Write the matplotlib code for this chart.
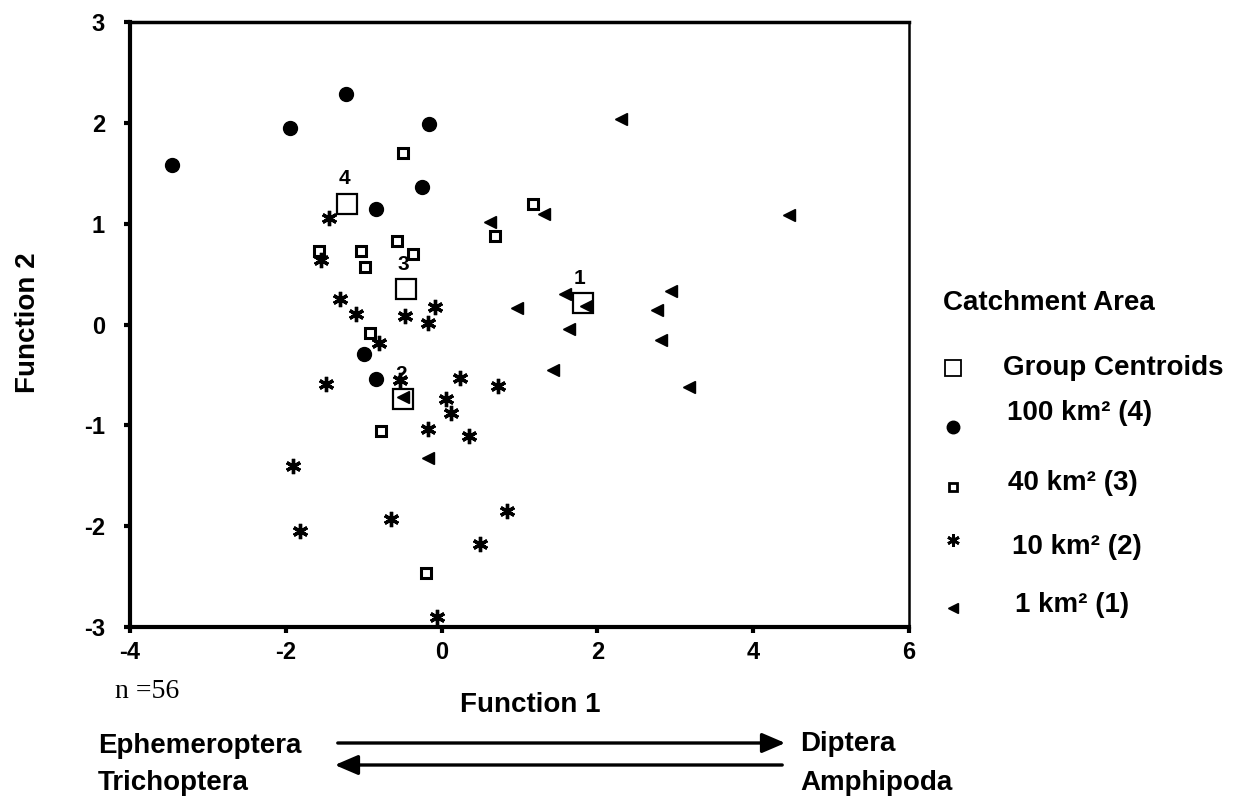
import matplotlib.pyplot as plt
from matplotlib.lines import Line2D
from matplotlib.patches import FancyArrowPatch

plt.rcParams['font.family'] = ['Liberation Sans', 'DejaVu Sans']
plt.rcParams['axes.unicode_minus'] = False

# discriminant scores
x100 = [-3.46, -1.95, -1.23, -0.16, -0.25, -0.84, -0.99, -0.84]
y100 = [1.58, 1.95, 2.29, 1.99, 1.36, 1.15, -0.29, -0.54]

x40 = [-0.49, 1.17, 0.68, -0.57, -0.37, -1.58, -1.04, -0.98, -0.92, -0.78, -0.20]
y40 = [1.70, 1.20, 0.88, 0.83, 0.70, 0.73, 0.73, 0.57, -0.08, -1.06, -2.46]

x10 = [-1.44, -1.55, -1.30, -1.10, -0.47, -0.08, -0.17, -0.81, -1.49, -0.53, 0.24,
       0.72, 0.06, 0.12, -0.17, 0.35, -1.91, -1.82, -0.65, 0.84, 0.49, -0.06]
y10 = [1.06, 0.64, 0.25, 0.10, 0.08, 0.17, 0.01, -0.18, -0.59, -0.55, -0.53,
       -0.61, -0.74, -0.88, -1.04, -1.11, -1.40, -2.05, -1.93, -1.85, -2.18, -2.90]

x1 = [0.62, 0.97, -0.49, -0.17, 2.30, 1.32, 4.46, 1.58, 1.85, 2.95, 2.76, 1.63, 2.82, 1.43, 3.17]
y1 = [1.02, 0.16, -0.72, -1.32, 2.04, 1.10, 1.09, 0.30, 0.18, 0.33, 0.14, -0.04, -0.15, -0.45, -0.62]

cent_x = [1.81, -0.49, -0.46, -1.21]
cent_y = [0.21, -0.74, 0.35, 1.20]
cent_lab = ['1', '2', '3', '4']

legend_labels = ['Group Centroids', '100 km\u00b2 (4)', '40 km\u00b2 (3)', '10 km\u00b2 (2)', '1 km\u00b2 (1)']

W, H = 1257, 796
fig = plt.figure(figsize=(W / 100, H / 100), dpi=100)
ax = fig.add_axes([130 / W, 1 - 627 / H, 779 / W, 605 / H])


def fx(px):
    return px / W


def fy(py):
    return 1 - py / H


star = (6, 2, 0)
ax.plot(x100, y100, 'o', color='black', ms=10, ls='none')
ax.plot(x40, y40, 's', mfc='white', mec='black', ms=6.5, mew=2.2, ls='none')
ax.plot(x10, y10, marker=star, color='black', ms=11, mew=2.4, ls='none')
ax.plot(x1, y1, '<', color='black', ms=8, ls='none')
ax.plot(cent_x, cent_y, 's', mfc='none', mec='black', ms=14, mew=1.6, ls='none')
for cx, cy, lab in zip(cent_x, cent_y, cent_lab):
    ax.annotate(lab, (cx, cy), xytext=(-2, 11), textcoords='offset points',
                ha='center', va='bottom', fontsize=15, fontweight='bold')

ax.set_xlim(-4, 6)
ax.set_ylim(-3, 3)
ax.set_xticks([-4, -2, 0, 2, 4, 6])
ax.set_yticks([-3, -2, -1, 0, 1, 2, 3])
ax.tick_params(direction='out', length=4, width=3, labelsize=17)
ax.tick_params(axis='x', pad=6)
ax.tick_params(axis='y', pad=14)
for t in ax.get_xticklabels() + ax.get_yticklabels():
    t.set_fontweight('bold')
    t.set_family(['Liberation Sans Narrow', 'Liberation Sans'])
ax.spines['left'].set_linewidth(3)
ax.spines['bottom'].set_linewidth(3)
ax.spines['top'].set_linewidth(2.5)
ax.spines['right'].set_linewidth(1.8)

tk = dict(fontsize=20, fontweight='bold', va='center')
fig.text(fx(28), fy(323), 'Function 2', rotation=90, ha='center', **tk)
fig.text(fx(530), fy(705), 'Function 1', ha='center', **tk)
fig.text(fx(115), fy(691), 'n =56', fontsize=20, family='Liberation Serif', va='center')

# direction arrows under the x axis
fig.text(fx(98), fy(746), 'Ephemeroptera', **tk)
fig.text(fx(98), fy(783), 'Trichoptera', **tk)
fig.text(fx(800), fy(744), 'Diptera', **tk)
fig.text(fx(800), fy(783), 'Amphipoda', **tk)
fig.add_artist(FancyArrowPatch((fx(335), fy(743)), (fx(788), fy(743)), transform=fig.transFigure,
                               arrowstyle='-|>,head_length=14,head_width=6', lw=2.4, color='black'))
fig.add_artist(FancyArrowPatch((fx(785), fy(765)), (fx(332), fy(765)), transform=fig.transFigure,
                               arrowstyle='-|>,head_length=14,head_width=6', lw=2.4, color='black'))

# legend, laid out by hand
fig.text(fx(943), fy(303), 'Catchment Area', **tk)
text_y = [368, 413, 483, 547, 605]
text_x = [1003, 1007, 1008, 1012, 1015]
mark_y = [368, 427, 487, 540, 608]
leg_style = [
    dict(marker='s', mfc='none', mec='black', ms=12, mew=1.3),
    dict(marker='o', color='black', ms=9),
    dict(marker='s', mfc='white', mec='black', ms=6, mew=2),
    dict(marker=star, color='black', ms=9, mew=2),
    dict(marker='<', color='black', ms=6.5),
]
for ty, tx, my, lab, st in zip(text_y, text_x, mark_y, legend_labels, leg_style):
    fig.add_artist(Line2D([fx(953)], [fy(my)], transform=fig.transFigure, ls='none', **st))
    fig.text(fx(tx), fy(ty), lab, **tk)

fig.savefig('out.png', dpi=100)
